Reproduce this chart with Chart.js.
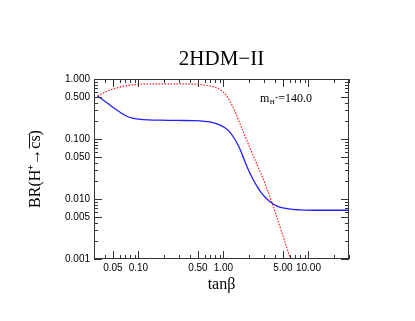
<!DOCTYPE html>
<html>
<head>
<meta charset="utf-8">
<script src="https://cdn.jsdelivr.net/npm/chart.js@4.4.1/dist/chart.umd.min.js"></script>
<style>
html,body{margin:0;padding:0;background:#fff;}
#c{display:block;}
</style>
</head>
<body>
<canvas id="c" width="415" height="321"></canvas>
<script>
// ---- data ----
const blueTanb = [0.033,0.043,0.052,0.062,0.072,0.085,0.1,0.13,0.18,0.29,0.46,0.6,0.75,0.9,1.05,1.2,1.35,1.5,1.64,1.8,2.0,2.2,2.45,2.75,3.1,3.6,4.2,5.0,6.5,8.0,12,20,30];
const blueBR   = [0.52,0.397,0.325,0.274,0.242,0.223,0.215,0.209,0.206,0.204,0.202,0.197,0.188,0.172,0.152,0.128,0.101,0.077,0.058,0.041,0.029,0.022,0.0168,0.0130,0.0107,0.0088,0.0077,0.0071,0.0067,0.0066,0.0065,0.0065,0.0065];
const redTanb  = [0.033,0.043,0.052,0.062,0.075,0.096,0.13,0.18,0.3,0.46,0.6,0.75,0.9,1.05,1.2,1.35,1.5,1.8,2.16,2.58,2.96,3.71,4.64,6.09,6.4];
const redBR    = [0.52,0.63,0.69,0.74,0.78,0.81,0.825,0.83,0.83,0.82,0.795,0.745,0.67,0.56,0.42,0.30,0.21,0.11,0.06,0.033,0.021,0.0088,0.0034,0.00105,0.0009];
const yTickValues = [1,0.5,0.1,0.05,0.01,0.005,0.001];
const yTickLabels = ['1.000','0.500','0.100','0.050','0.010','0.005','0.001'];
const xTickValues = [0.05,0.1,0.5,1,5,10];
const xTickLabels = ['0.05','0.10','0.50','1.00','5.00','10.00'];
const xRange = [0.03, 30];
const yRange = [0.001, 1];
const titleText = '2HDM\u2212II';
const xTitle = 'tan\u03B2';
const yTitle = 'BR(H\u207A\u2192c\u0305s\u0305)';
const massLabel = ['m', 'H', '+', '=140.0'];

function pts(xs, ys){ return xs.map((v,i)=>({x:v, y:ys[i]})); }
function isMajor(list, v){ return list.some(t => Math.abs(t - v) / t < 1e-6); }

const framePlugin = {
  id: 'frame',
  afterDraw(chart){
    const {ctx, chartArea: a, scales} = chart;
    const xs = scales.x, ys = scales.y;
    ctx.save();
    ctx.fillStyle = '#000';
    ctx.font = '21px "Liberation Serif", serif';
    ctx.textAlign = 'center';
    ctx.textBaseline = 'middle';
    ctx.fillText(titleText, (a.left + a.right) / 2, 59);
    ctx.textAlign = 'left';
    ctx.strokeStyle = '#333';
    ctx.lineWidth = 1;
    ctx.strokeRect(a.left + 0.5, a.top + 0.5, a.right - a.left - 1, a.bottom - a.top - 1);
    ctx.beginPath();
    for (let e = -3; e <= 0; e++) {
      for (let k = 1; k <= 9; k++) {
        const v = k * Math.pow(10, e);
        if (v < yRange[0]*0.999 || v > yRange[1]*1.001) continue;
        const py = Math.round(ys.getPixelForValue(v)) + 0.5;
        const len = isMajor(yTickValues, v) ? 8 : 4;
        ctx.moveTo(a.left, py); ctx.lineTo(a.left + len, py);
        ctx.moveTo(a.right, py); ctx.lineTo(a.right - len, py);
      }
    }
    for (let e = -2; e <= 1; e++) {
      for (let k = 1; k <= 9; k++) {
        const v = k * Math.pow(10, e);
        if (v < xRange[0]*0.999 || v > xRange[1]*1.001) continue;
        const px = Math.round(xs.getPixelForValue(v)) + 0.5;
        const len = isMajor(xTickValues, v) ? 8 : 4;
        ctx.moveTo(px, a.bottom); ctx.lineTo(px, a.bottom - len);
        ctx.moveTo(px, a.top); ctx.lineTo(px, a.top + len);
      }
    }
    ctx.stroke();
    ctx.textBaseline = 'alphabetic';
    let tx = a.left + 166, ty = a.top + 23;
    ctx.font = '12px "Liberation Serif", serif';
    ctx.fillText(massLabel[0], tx, ty);
    tx += ctx.measureText(massLabel[0]).width + 0.5;
    ctx.font = '7px "Liberation Serif", serif';
    ctx.fillText(massLabel[1], tx, ty + 2);
    tx += ctx.measureText(massLabel[1]).width;
    ctx.font = '6px "Liberation Serif", serif';
    ctx.fillText(massLabel[2], tx, ty - 2);
    tx += ctx.measureText(massLabel[2]).width;
    ctx.font = '12px "Liberation Serif", serif';
    ctx.fillText(massLabel[3], tx, ty);
    ctx.restore();
  }
};

new Chart(document.getElementById('c'), {
  type: 'line',
  data: {
    datasets: [
      { data: pts(blueTanb, blueBR), borderColor: '#2020ff', borderWidth: 1.3, pointRadius: 0, tension: 0.35, fill: false },
      { data: pts(redTanb, redBR), borderColor: '#ff1a1a', borderWidth: 1.2, borderDash: [1.5, 1.5], pointRadius: 0, tension: 0.35, fill: false }
    ]
  },
  options: {
    responsive: false,
    animation: false,
    devicePixelRatio: 1,
    layout: { padding: { left: 0, right: 66, top: 79, bottom: 0 } },
    plugins: {
      legend: { display: false },
      tooltip: { enabled: false },
      title: { display: false }
    },
    scales: {
      x: {
        type: 'logarithmic', min: xRange[0], max: xRange[1],
        grid: { display: false, drawTicks: false },
        border: { display: false },
        afterBuildTicks: s => { s.ticks = xTickValues.map(v => ({ value: v })); },
        afterFit: s => { s.height = 62; },
        ticks: {
          autoSkip: false, maxRotation: 0, padding: 3, color: '#000',
          font: { family: '"Liberation Sans", Arial, sans-serif', size: 10 },
          callback: (v, i) => xTickLabels[i]
        },
        title: {
          display: true, text: xTitle, color: '#000',
          font: { family: '"Liberation Serif", serif', size: 16, lineHeight: 1.2 },
          padding: { top: 0, bottom: 27 }
        }
      },
      y: {
        type: 'logarithmic', min: yRange[0], max: yRange[1],
        grid: { display: false, drawTicks: false },
        border: { display: false },
        afterBuildTicks: s => { s.ticks = yTickValues.map(v => ({ value: v })); },
        afterFit: s => { s.width = 94; },
        ticks: {
          autoSkip: false, padding: 4, color: '#000',
          font: { family: '"Liberation Sans", Arial, sans-serif', size: 10 },
          callback: (v, i) => yTickLabels[i]
        },
        title: {
          display: true, text: yTitle, color: '#000',
          font: { family: '"Liberation Serif", serif', size: 16, lineHeight: 1.2 },
          padding: { top: 26, bottom: 0 }
        }
      }
    }
  },
  plugins: [framePlugin]
});
</script>
</body>
</html>
